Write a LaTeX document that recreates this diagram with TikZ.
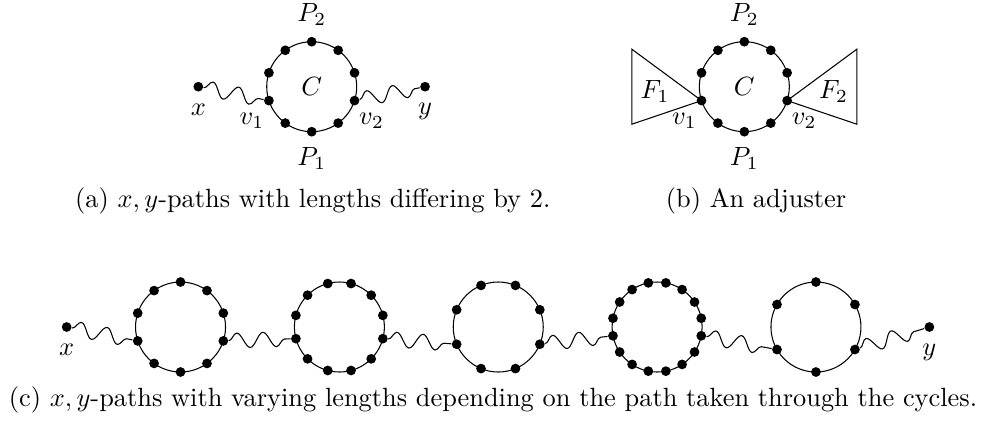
\documentclass[tikz,border=0pt]{standalone}
\usepackage{amsmath}
\usepackage{amssymb}
\usepackage{tikz}
\usetikzlibrary{positioning,decorations.pathmorphing}

\begin{document}
\begin{tikzpicture}[
  vtx/.style={circle, fill, inner sep=0pt, minimum size=1.3mm},
  cyc/.style={draw, circle, inner sep=0pt, minimum size=1.2cm},
  lbl/.style={inner sep=1pt},
  wavy/.style={decorate, decoration={snake, amplitude=2.8pt, segment length=3.5mm}}]
  \useasboundingbox (0,0) rectangle (13.133,5.613);

  % (a)
  \node[cyc] (ca) at (4.156,4.457) {$C$};
  \foreach \k in {0,...,9}
    \node[vtx] (a\k) at ([shift={(18+36*\k:0.6)}]ca.center) {};
  \node[vtx] (xa) at (2.644,4.457) {};
  \node[vtx] (ya) at (5.667,4.457) {};
  \draw[wavy] (xa) -- (a5);
  \draw[wavy] (a9) -- (ya);
  \node[lbl, below=1.2mm of xa] (lxa) {$x$};
  \node[lbl, below=1.1mm of ya] (lya) {$y$};
  \node[lbl, below left=0.8mm and -0.3mm of a5] (va1) {$v_1$};
  \node[lbl, below right=0.8mm and -0.3mm of a9] (va2) {$v_2$};
  \node[lbl, above=1mm of a2] (pa2) {$P_2$};
  \node[lbl, below=1mm of a7] (pa1) {$P_1$};

  % (b)
  \node[cyc] (cb) at (9.924,4.457) {$C$};
  \foreach \k in {0,...,9}
    \node[vtx] (b\k) at ([shift={(18+36*\k:0.6)}]cb.center) {};
  \coordinate (f1t) at ([shift={(-1.5,0.5)}]cb.center);
  \coordinate (f1b) at ([shift={(-1.5,-0.5)}]cb.center);
  \coordinate (f2t) at ([shift={(1.5,0.5)}]cb.center);
  \coordinate (f2b) at ([shift={(1.5,-0.5)}]cb.center);
  \draw (b5.center) -- (f1t) -- (f1b) -- cycle;
  \draw (b9.center) -- (f2t) -- (f2b) -- cycle;
  \node (f1) at ([shift={(-1.19,-0.06)}]cb.center) {$F_1$};
  \node (f2) at ([shift={(1.19,-0.06)}]cb.center) {$F_2$};
  \node[lbl, below left=0.8mm and -0.3mm of b5] (vb1) {$v_1$};
  \node[lbl, below right=0.8mm and -0.3mm of b9] (vb2) {$v_2$};
  \node[lbl, above=1mm of b2] (pb2) {$P_2$};
  \node[lbl, below=1mm of b7] (pb1) {$P_1$};

  % (c)
  \node[vtx] (xc) at (0.889,1.253) {};
  \node[vtx] (yc) at (12.391,1.253) {};
  \foreach \n [count=\i] in {10,12,8,16,6} {
    \node[cyc] (c\i) at ({2.407+2.118*(\i-1)},1.253) {};
    \pgfmathtruncatemacro\last{\n-1}
    \foreach \k in {0,...,\last}
      \node[vtx] (c\i-\k) at ([shift={(180/\n+360*\k/\n:0.6)}]c\i.center) {};
  }
  \draw[wavy] (xc) -- (c1-5);
  \draw[wavy] (c1-9) -- (c2-6);
  \draw[wavy] (c2-11) -- (c3-4);
  \draw[wavy] (c3-7) -- (c4-8);
  \draw[wavy] (c4-15) -- (c5-3);
  \draw[wavy] (c5-5) -- (yc);
  \node[lbl, below=1.2mm of xc] (lxc) {$x$};
  \node[lbl, below=1.1mm of yc] (lyc) {$y$};

  \node (capa) at (4.17,2.94) {(a) $x,y$-paths with lengths differing by 2.};
  \node (capb) at (10.08,2.94) {(b) An adjuster};
  \node (capc) at (6.573,0.28) {(c) $x,y$-paths with varying lengths depending on the path taken through the cycles.};
\end{tikzpicture}
\end{document}
